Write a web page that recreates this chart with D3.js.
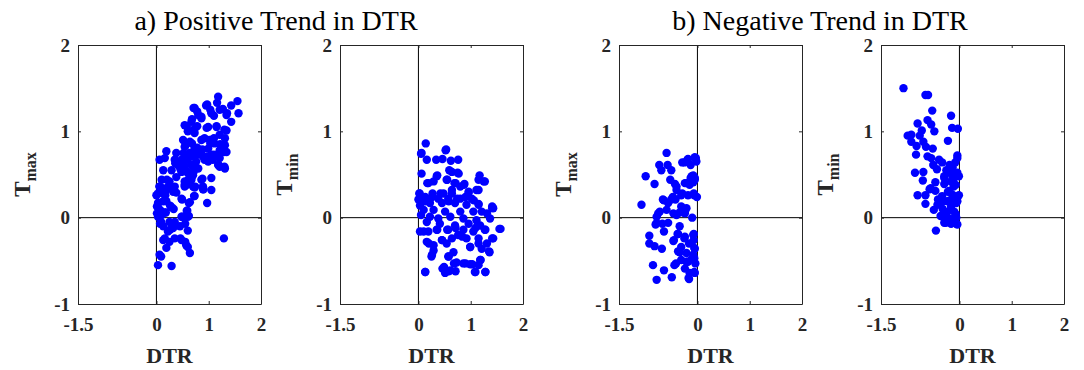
<!DOCTYPE html>
<html>
<head>
<meta charset="utf-8">
<script src="https://cdn.jsdelivr.net/npm/d3@7"></script>
<style>
  body { margin: 0; background: #fff; }
  svg { display: block; }
  text { font-family: "Liberation Serif", "Times New Roman", serif; }
</style>
</head>
<body>
<svg id="chart" width="1084" height="370"></svg>
<script>
// axis ticks shared by all four panels
const xTicks = [-1.5, 0, 1, 2];
const yTicks = [-1, 0, 1, 2];
const titles = ["a) Positive Trend in DTR", "b) Negative Trend in DTR"];
const yLabels = ["max", "min", "max", "min"];

// [DTR, T] pairs
const posTmax = [
  [1.18,1.40],[1.55,1.35],[1.43,1.30],[1.57,1.21],[0.95,1.30],[0.73,1.27],[0.80,1.19],[1.05,1.21],
  [1.21,1.25],[1.34,1.19],[0.86,1.15],[1.43,1.11],[0.67,1.11],[0.54,1.07],[0.76,1.05],[0.99,1.05],
  [1.15,1.05],[1.34,1.01],[0.60,1.00],[0.73,0.98],[1.21,0.96],[0.86,0.90],[1.02,0.90],[1.31,0.92],
  [0.51,0.90],[0.64,0.88],[1.11,0.86],[0.54,0.82],[0.73,0.80],[1.31,0.84],[0.86,0.78],[0.99,0.80],
  [1.21,0.78],[1.29,0.76],[0.19,0.77],[0.38,0.75],[0.54,0.73],[0.64,0.75],[0.76,0.73],[0.89,0.71],
  [1.05,0.73],[1.18,0.73],[1.34,0.76],[0.06,0.67],[0.16,0.69],[0.35,0.67],[0.48,0.67],[0.60,0.67],
  [0.76,0.65],[0.92,0.67],[1.08,0.67],[1.21,0.69],[0.41,0.61],[0.54,0.59],[0.67,0.61],[0.99,0.65],
  [1.18,0.61],[1.31,0.57],[0.13,0.55],[0.29,0.55],[0.48,0.53],[0.60,0.53],[0.80,0.57],[0.70,0.49],
  [0.38,0.47],[1.21,0.59],[0.10,0.44],[0.54,0.42],[0.86,0.44],[1.05,0.46],[0.25,0.42],[0.67,0.44],
  [0.35,0.36],[0.22,0.34],[0.06,0.36],[0.54,0.38],[0.89,0.36],[0.70,0.36],[1.05,0.32],[0.10,0.32],
  [0.71,0.71],[0.84,0.73],[0.97,0.71],[1.10,0.73],[1.22,0.75],[0.62,0.73],[0.52,0.75],[0.78,0.81],
  [0.88,0.79],[1.29,0.79],[1.10,0.92],[0.92,0.92],[0.68,0.86],[0.55,0.83],[1.22,0.85],[1.03,0.86],
  [0.71,1.02],[0.78,1.06],[0.96,1.04],[1.15,1.06],[1.30,1.02],[0.58,1.06],[0.68,1.14],[1.10,1.18],
  [0.86,1.17],[1.03,1.25],[1.16,1.33],[0.97,1.31],[1.27,1.26],[1.35,1.21],[0.71,1.27],[0.78,1.23],
  [0.36,0.63],[0.51,0.61],[0.68,0.61],[1.19,0.61],[1.30,0.59],[0.46,0.56],[0.58,0.53],[0.71,0.53],
  [0.62,0.45],[0.88,0.45],[0.20,0.44],[0.58,0.38],[0.74,0.36],[0.90,0.33],[0.33,0.32],[0.12,0.34],
  [0.23,0.36],[0.38,0.29],[0.72,0.25],[0.03,0.28],[0.17,0.26],[0.49,0.21],[0.62,0.17],[0.04,0.17],
  [0.13,0.19],[0.01,0.13],[0.26,0.14],[0.33,0.10],[0.07,0.09],[0.18,0.06],[0.58,0.08],[0.01,0.05],
  [0.62,0.02],[0.49,0.01],[0.10,0.03],
  [0.06,0.36],[0.19,0.33],[0.32,0.30],[0.54,0.36],[0.73,0.35],[0.89,0.33],[0.00,0.26],[0.13,0.28],
  [0.48,0.22],[0.73,0.25],[0.97,0.17],[0.64,0.18],[0.03,0.17],[0.19,0.19],[0.29,0.12],[0.06,0.09],
  [0.16,0.06],[0.59,0.08],[0.48,0.01],[0.60,0.01],[0.03,0.01],[0.09,-0.05],[0.25,-0.05],[0.35,-0.05],
  [0.13,-0.10],[0.45,-0.10],[0.60,-0.15],[0.22,-0.16],[0.32,-0.12],[0.16,-0.24],[0.35,-0.24],[0.48,-0.26],
  [0.25,-0.28],[0.57,-0.32],[1.29,-0.24],[0.19,-0.35],[0.64,-0.41],[0.09,-0.45],[0.03,-0.55],[0.29,-0.56],
  [0.06,-0.43],[0.55,-0.07],[0.07,-0.07],[0.26,-0.14],[0.46,-0.24],[0.55,-0.28],[0.60,-0.34],[0.13,-0.26]
];

const posTmin = [
  [0.14,0.86],[0.05,0.74],[0.53,0.79],[0.16,0.67],[0.34,0.67],[0.46,0.68],[0.62,0.66],[0.76,0.67],
  [0.06,0.51],[0.59,0.55],[0.75,0.52],[1.17,0.49],[0.35,0.48],[0.54,0.44],[1.15,0.44],[1.27,0.42],
  [0.19,0.40],[0.29,0.42],[0.69,0.40],[0.88,0.39],[0.80,0.36],[1.11,0.32],[0.02,0.28],[0.27,0.28],
  [0.48,0.28],[0.64,0.28],[0.96,0.29],[0.13,0.24],[0.38,0.22],[0.57,0.22],[0.80,0.22],[1.02,0.22],
  [0.00,0.21],[0.03,0.14],[0.22,0.17],[0.45,0.17],[0.70,0.17],[0.92,0.15],[1.15,0.16],[1.43,0.11],
  [0.10,0.09],[0.29,0.09],[0.51,0.07],[0.80,0.07],[1.05,0.07],[1.21,0.07],[1.31,0.05],[0.05,0.03],
  [0.22,0.01],[0.38,-0.01],[0.61,0.01],[0.86,-0.01],[1.11,-0.03],[1.37,-0.01],[0.16,-0.05],[0.41,-0.07],
  [0.70,-0.09],[0.96,-0.07],[1.18,-0.09],[1.55,-0.13],[0.03,-0.16],[0.19,-0.16],[0.35,-0.14],[0.57,-0.14],
  [0.86,-0.14],[1.05,-0.16],[1.27,-0.14],[1.43,-0.24],[0.16,-0.28],[0.45,-0.26],[0.64,-0.24],[0.76,-0.20],
  [0.92,-0.24],[1.15,-0.24],[1.31,-0.30],[0.29,-0.32],[0.54,-0.30],[0.99,-0.34],[1.21,-0.36],[1.36,-0.40],
  [0.25,-0.45],[0.57,-0.45],[0.67,-0.40],[1.18,-0.49],[0.73,-0.52],[0.86,-0.53],[0.99,-0.54],[1.15,-0.55],
  [0.46,-0.59],[0.51,-0.64],[0.61,-0.61],[0.13,-0.63],[1.08,-0.63],[1.28,-0.63],[0.29,-0.38],
  [0.06,0.75],[0.52,0.78],[0.64,0.53],[0.77,0.51],[1.25,0.42],[0.36,0.49],[0.17,0.40],[0.55,0.44],
  [0.71,0.40],[0.87,0.38],[1.15,0.32],[0.96,0.30],[0.64,0.32],[0.42,0.28],[0.02,0.28],[0.26,0.24],
  [0.74,0.22],[0.90,0.24],[1.06,0.20],[0.13,0.19],[0.58,0.19],[1.41,0.13],[1.15,0.15],
  [1.41,0.11],[1.57,-0.13],[0.10,-0.16],[0.36,-0.14],[0.55,-0.14],[0.71,-0.12],[1.09,-0.12],[1.28,-0.14],
  [1.41,-0.24],[0.20,-0.30],[0.45,-0.26],[0.84,-0.22],[0.99,-0.34],[1.15,-0.30],[1.35,-0.39],[0.26,-0.43],
  [0.58,-0.45],[0.68,-0.53],[0.90,-0.53],[1.03,-0.54],[1.19,-0.49],[0.49,-0.57],[0.58,-0.62],[0.71,-0.62],
  [0.13,-0.63],[1.09,-0.63],[1.28,-0.63]
];

const negTmax = [
  [-0.59,0.75],[-0.99,0.48],[-0.82,0.39],[-0.73,0.61],[-0.57,0.61],[-0.69,0.55],[-0.50,0.55],[-0.29,0.64],
  [-0.19,0.67],[-0.05,0.70],[-0.02,0.65],[-0.13,0.61],[-0.52,0.44],[-0.43,0.39],[-0.11,0.48],[-0.05,0.46],
  [-0.24,0.40],[-0.15,0.38],[-0.08,0.41],[-0.40,0.32],[-0.29,0.28],[-0.18,0.26],[-0.07,0.28],[-0.01,0.24],
  [-1.07,0.15],[-0.66,0.21],[-0.56,0.17],[-0.50,0.21],[-0.42,0.21],[-0.31,0.13],[-0.21,0.11],[-0.72,0.07],
  [-0.59,0.09],[-0.46,0.05],[-0.34,0.06],[-0.24,0.05],[-0.78,0.01],[-0.10,0.00],[-0.80,-0.08],[-0.67,-0.07],
  [-0.56,-0.06],[-0.34,-0.10],[-0.64,-0.16],[-0.37,-0.19],[-0.25,-0.24],[-0.07,-0.19],[-0.92,-0.21],[-0.92,-0.30],
  [-0.82,-0.33],[-0.68,-0.36],[-0.46,-0.27],[-0.16,-0.30],[-0.07,-0.26],[-0.31,-0.34],[-0.05,-0.36],[-0.34,-0.40],
  [-0.21,-0.41],[-0.08,-0.43],[-0.41,-0.53],[-0.31,-0.49],[-0.21,-0.51],[-0.11,-0.48],[-0.04,-0.53],[-0.85,-0.55],
  [-0.64,-0.61],[-0.49,-0.69],[-0.78,-0.72],[-0.15,-0.64],[-0.05,-0.64],[-0.16,-0.71],
  [-0.03,0.69],[-0.18,0.68],[-0.25,0.64],[-0.08,0.49],[-0.13,0.46],[-0.05,0.44],[-0.21,0.40],[-0.40,0.36],
  [-0.64,0.20],[-0.47,0.24],[-0.31,0.26],[-0.06,0.26],[-0.75,0.05],[-0.40,0.03],[-0.24,0.07],[-0.78,-0.06],
  [-0.38,-0.19],[-0.08,-0.20],[-0.45,-0.26],[-0.24,-0.22],[-0.06,-0.35],[-0.37,-0.39],[-0.18,-0.51],[-0.06,-0.47],
  [-0.44,-0.55],[-0.17,-0.70],[-0.06,-0.63],[-0.24,-0.59]
];

const negTmin = [
  [-1.07,1.50],[-0.65,1.42],[-0.60,1.42],[-0.52,1.24],[-0.16,1.18],[-0.61,1.13],[-0.54,1.08],[-0.80,1.09],
  [-0.48,1.00],[-0.14,1.04],[-0.03,1.03],[-0.72,1.01],[-0.99,0.95],[-0.92,0.96],[-0.76,0.95],[-0.22,0.89],
  [-0.92,0.88],[-0.69,0.88],[-0.82,0.83],[-0.64,0.82],[-0.51,0.80],[-0.83,0.73],[-0.61,0.71],[-0.54,0.69],
  [-0.04,0.72],[-0.39,0.67],[-0.33,0.64],[-0.08,0.64],[-0.50,0.61],[-0.19,0.61],[-0.43,0.56],[-0.25,0.55],
  [-0.13,0.52],[-0.85,0.52],[-0.69,0.53],[-0.29,0.48],[-0.01,0.48],[-0.10,0.46],[-0.70,0.43],[-0.46,0.41],
  [-0.16,0.42],[-0.29,0.39],[-0.11,0.36],[-0.57,0.33],[-0.46,0.31],[-0.22,0.30],[-0.80,0.26],[-0.65,0.26],
  [-0.14,0.27],[-0.01,0.26],[-0.41,0.21],[-0.32,0.19],[-0.19,0.20],[-0.06,0.17],[-0.65,0.16],[-0.49,0.09],
  [-0.32,0.10],[-0.16,0.13],[-0.25,0.06],[-0.10,0.07],[-0.32,0.01],[-0.19,-0.01],[-0.06,0.00],[-0.29,-0.06],
  [-0.16,-0.07],[-0.06,-0.07],[-0.45,-0.15],
  [-0.29,0.07],[-0.17,0.09],[-0.07,0.04],[-0.23,0.00],[-0.13,-0.06],[-0.04,-0.08],[-0.26,-0.06],[-0.36,0.02],
  [-0.23,0.19],[-0.10,0.25],[-0.04,0.19],[-0.33,0.25],[-0.42,0.15],[-0.20,0.31],[-0.07,0.38],[-0.13,0.46],
  [-0.04,0.52],[-0.23,0.52],[-0.29,0.46],[-0.04,0.69],[-0.13,0.58],[-0.55,0.34]
];

const panelData = [posTmax, posTmin, negTmax, negTmin];
const panelLeft = [78, 340, 619, 881];
const titleX = [276, 820];

const plotTop = 45, w = 183, h = 259;
const svg = d3.select("#chart");

const x = d3.scaleLinear().domain([-1.5, 2]).range([0, w]);
const y = d3.scaleLinear().domain([-1, 2]).range([h, 0]);

titles.forEach((t, i) => {
  svg.append("text")
     .attr("x", titleX[i])
     .attr("y", 30)
     .attr("text-anchor", "middle")
     .style("font-size", "28px")
     .style("fill", "#000")
     .text(t);
});

panelData.forEach((data, i) => {
  const g = svg.append("g").attr("transform", `translate(${panelLeft[i]},${plotTop})`);

  // zero lines
  g.append("line")
   .attr("x1", 0).attr("x2", w)
   .attr("y1", y(0)).attr("y2", y(0))
   .attr("stroke", "#000").attr("stroke-width", 1);
  g.append("line")
   .attr("x1", x(0)).attr("x2", x(0))
   .attr("y1", 0).attr("y2", h)
   .attr("stroke", "#000").attr("stroke-width", 1);

  g.selectAll("circle")
   .data(data)
   .enter().append("circle")
   .attr("cx", d => x(d[0]))
   .attr("cy", d => y(d[1]))
   .attr("r", 4.2)
   .style("fill", "#0000ff");

  // box with inward ticks, labels only on bottom and left
  const bottom = g.append("g").attr("transform", `translate(0,${h})`)
    .call(d3.axisBottom(x).tickValues(xTicks).tickSizeInner(-3).tickSizeOuter(0).tickPadding(14));
  const left = g.append("g")
    .call(d3.axisLeft(y).tickValues(yTicks).tickSizeInner(-3).tickSizeOuter(0).tickPadding(8));
  g.append("g")
    .call(d3.axisTop(x).tickValues(xTicks).tickSizeInner(-3).tickSizeOuter(0).tickFormat(""));
  g.append("g").attr("transform", `translate(${w},0)`)
    .call(d3.axisRight(y).tickValues(yTicks).tickSizeInner(-3).tickSizeOuter(0).tickFormat(""));

  g.selectAll(".domain, .tick line").attr("stroke", "#262626");
  [bottom, left].forEach(a => a.selectAll("text")
    .style("font-family", '"Liberation Serif", serif')
    .style("font-size", "19px")
    .style("font-weight", "bold")
    .style("fill", "#262626")
    .text(d => d < 0 ? "-" + Math.abs(d) : d));

  g.append("text")
   .attr("x", w / 2)
   .attr("y", h + 59)
   .attr("text-anchor", "middle")
   .style("font-size", "22px")
   .style("font-weight", "bold")
   .style("fill", "#262626")
   .text("DTR");

  const yl = g.append("text")
   .attr("transform", `translate(-48,${h / 2}) rotate(-90)`)
   .attr("text-anchor", "middle")
   .style("font-size", "23px")
   .style("font-weight", "bold")
   .style("fill", "#262626");
  yl.append("tspan").text("T");
  yl.append("tspan").attr("dy", 6).style("font-size", "16px").text(yLabels[i]);
});
</script>
</body>
</html>
